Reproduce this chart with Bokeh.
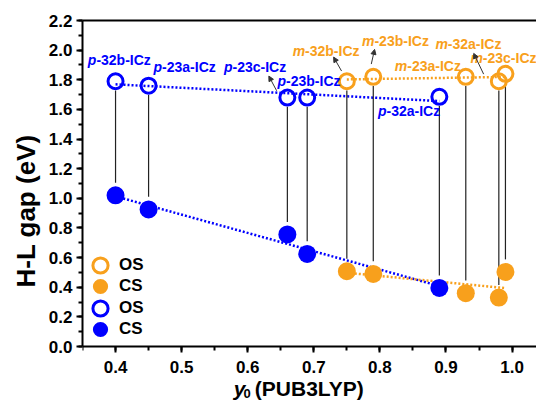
import numpy as np
from bokeh.plotting import figure
from bokeh.models import (ColumnDataSource, Range1d, SingleIntervalTicker, PrintfTickFormatter,
                          LinearAxis, FixedTicker, Legend, LegendItem, Label, Arrow, NormalHead)
from bokeh.core.properties import value
from bokeh.embed import file_html
from bokeh.resources import INLINE

# ---------------- data ----------------
# para (p-) isomers, blue
p_names = ["32b", "23a", "23c", "23b", "32a"]
p_y0 = [0.40, 0.45, 0.66, 0.69, 0.89]
p_os = [1.79, 1.76, 1.68, 1.68, 1.685]
p_cs = [1.02, 0.925, 0.756, 0.625, 0.395]

# meta (m-) isomers, orange
m_names = ["32b", "23b", "23a", "32a", "23c"]
m_y0 = [0.75, 0.79, 0.93, 0.98, 0.99]
m_os = [1.79, 1.82, 1.82, 1.79, 1.84]
m_cs = [0.508, 0.49, 0.36, 0.33, 0.503]

# label anchor positions (left edge, vertical centre) in data units
p_lab_x = [0.358, 0.4574, 0.564, 0.645, 0.797]
p_lab_y = [1.933, 1.888, 1.888, 1.791, 1.588]
m_lab_x = [0.668, 0.773, 0.8226, 0.884, 0.937]
m_lab_y = [1.996, 2.062, 1.893, 2.041, 1.945]

# small pointer arrows (tail near marker, head near label)
arr_x0 = [0.6438, 0.742, 0.787, 0.957]
arr_y0 = [1.726, 1.859, 1.906, 1.838]
arr_x1 = [0.632, 0.730, 0.792, 0.942]
arr_y1 = [1.825, 1.953, 2.005, 1.978]

legend_labels = ["OS", "CS", "OS", "CS"]

BLUE = "#0000FF"
ORANGE = "#F8A01C"
FONT = "Liberation Sans"

p = figure(width=536, height=401, output_backend="svg", toolbar_location=None,
           x_range=Range1d(0.35, 1.037), y_range=Range1d(-0.371, 2.2),
           min_border_left=82, min_border_right=0, min_border_top=20, min_border_bottom=0)
p.outline_line_color = None
p.grid.visible = False
p.background_fill_color = "white"

# axes styling
for ax in (p.xaxis[0], p.yaxis[0]):
    ax.axis_line_width = 2
    ax.major_tick_line_width = 2
    ax.minor_tick_line_width = 2
    ax.major_tick_out = 6
    ax.major_tick_in = 0
    ax.minor_tick_out = 4
    ax.minor_tick_in = 0
    ax.major_label_text_font = FONT
    ax.major_label_text_font_style = "bold"
    ax.major_label_text_font_size = "17px"
    ax.major_label_text_color = "black"
    ax.major_label_standoff = 4
    ax.formatter = PrintfTickFormatter(format="%.1f")
p.xaxis[0].ticker = SingleIntervalTicker(interval=0.1, num_minor_ticks=2)
p.xaxis[0].fixed_location = 0
p.xaxis[0].major_label_standoff = 8
p.yaxis[0].ticker = SingleIntervalTicker(interval=0.2, num_minor_ticks=2)
p.yaxis[0].bounds = (0, 2.2)
p.yaxis[0].axis_label = "H-L gap (eV)"
p.yaxis[0].axis_label_text_font = FONT
p.yaxis[0].axis_label_text_font_style = "bold"
p.yaxis[0].axis_label_text_font_size = "26px"
p.yaxis[0].axis_label_text_color = "black"
p.yaxis[0].axis_label_standoff = 5

top = LinearAxis(ticker=FixedTicker(ticks=[]), axis_line_width=2, major_tick_out=0,
                 minor_tick_out=0, major_label_standoff=0, axis_label_standoff=0)
p.add_layout(top, "above")

# trend lines (linear least squares fits)
def fit_line(xs, ys):
    k, b = np.polyfit(xs, ys, 1)
    xx = [min(xs), max(xs)]
    return xx, [k * v + b for v in xx]

for xs, ys, col in ((p_y0, p_os, BLUE), (p_y0, p_cs, BLUE), (m_y0, m_os, ORANGE), (m_y0, m_cs, ORANGE)):
    fx, fy = fit_line(xs, ys)
    p.line(fx, fy, line_color=col, line_width=2.5, line_dash="2 2")

# vertical connectors OS -> CS
all_x = p_y0 + m_y0
all_os = p_os + m_os
all_cs = p_cs + m_cs
p.segment(x0=all_x, y0=[v - 0.062 for v in all_os], x1=all_x, y1=[v + 0.085 for v in all_cs],
          line_color="#222222", line_width=1.2)

# markers
r_mos = p.scatter(m_y0, m_os, marker="circle", size=15, fill_color=None, line_color=ORANGE, line_width=3)
r_mcs = p.scatter(m_y0, m_cs, marker="circle", size=18, fill_color=ORANGE, line_color=None)
r_pos = p.scatter(p_y0, p_os, marker="circle", size=15, fill_color=None, line_color=BLUE, line_width=3)
r_pcs = p.scatter(p_y0, p_cs, marker="circle", size=18, fill_color=BLUE, line_color=None)

# arrows
asrc = ColumnDataSource(dict(x0=arr_x0, y0=arr_y0, x1=arr_x1, y1=arr_y1))
p.add_layout(Arrow(source=asrc, x_start="x0", y_start="y0", x_end="x1", y_end="y1",
                   line_color="#333333", line_width=1,
                   end=NormalHead(size=5, fill_color="#333333", line_color="#333333")))

# labels: italic prefix + bold rest
def add_labels(lx, ly, names, prefix, col, pref_w):
    p.text(x=lx, y=ly, text=[prefix] * len(lx), text_color=col, text_font=value(FONT),
           text_font_style="bold italic", text_font_size="14px", text_baseline="middle", text_align="left")
    p.text(x=lx, y=ly, text=["-" + n + "-ICz" for n in names], text_color=col, text_font=value(FONT),
           text_font_style="bold", text_font_size="14px", text_baseline="middle", text_align="left",
           x_offset=pref_w)

add_labels(p_lab_x, p_lab_y, p_names, "p", BLUE, 8.6)
add_labels(m_lab_x, m_lab_y, m_names, "m", ORANGE, 12.4)

# legend: one single-item legend per row so the rows can sit close together
legend_rows = [116.5, 95, 73.5, 52]   # screen px above frame bottom
for lab, rend, vy in zip(legend_labels, [r_mos, r_mcs, r_pos, r_pcs], legend_rows):
    lg = Legend(items=[LegendItem(label=lab, renderers=[rend])],
                location=(-1, vy), orientation="vertical",
                glyph_width=38, glyph_height=40, spacing=0, label_standoff=0,
                padding=0, margin=0, border_line_alpha=0, background_fill_alpha=0,
                label_text_font=FONT, label_text_font_style="bold", label_text_font_size="17px",
                label_text_color="black")
    p.add_layout(lg)

# x-axis title: y (italic) + subscript 0 + (PUB3LYP)
p.add_layout(Label(x=151.3, y=13, x_units="screen", y_units="screen", text="y",
                   text_font=FONT, text_font_style="bold italic", text_font_size="21px",
                   text_baseline="alphabetic", text_color="black"))
p.add_layout(Label(x=161.0, y=8, x_units="screen", y_units="screen", text="0",
                   text_font=FONT, text_font_style="bold", text_font_size="13px",
                   text_baseline="alphabetic", text_color="black"))
p.add_layout(Label(x=172.3, y=13, x_units="screen", y_units="screen", text="(PUB3LYP)",
                   text_font=FONT, text_font_style="bold", text_font_size="21px",
                   text_baseline="alphabetic", text_color="black"))

open("out.html", "w").write(file_html(p, INLINE))
